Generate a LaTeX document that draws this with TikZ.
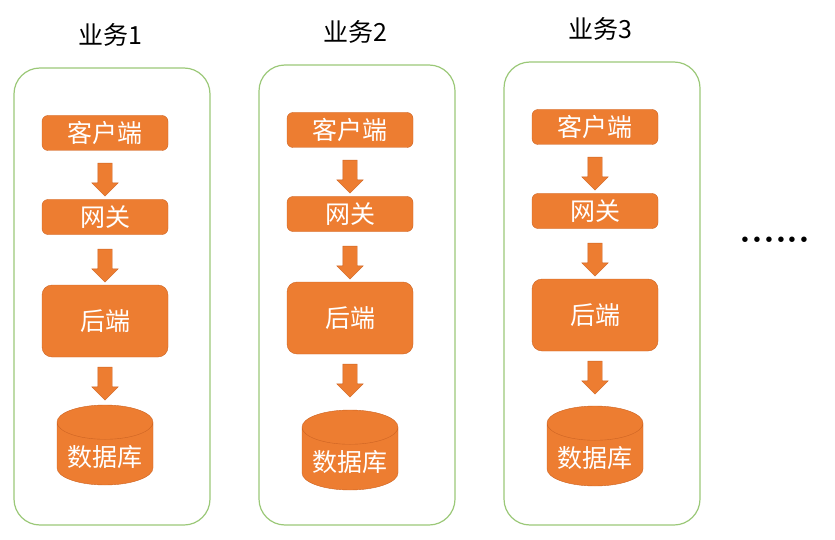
\documentclass[tikz,border=0pt]{standalone}
\usepackage{fontspec}
\newfontfamily\cjk{Noto Sans CJK SC}
\usetikzlibrary{shapes.geometric,shapes.arrows,positioning}
\definecolor{bizo}{RGB}{237,125,49}
\definecolor{bizd}{RGB}{205,100,35}
\definecolor{bizg}{RGB}{155,200,120}
\tikzset{
	every node/.style = { align = center, font=\cjk },
	box/.style = { rectangle, rounded corners=6pt, draw=bizd, fill=bizo, text=white, minimum width=126pt, minimum height=35pt, font=\cjk\fontsize{25}{25}\selectfont },
	big/.style = { box, minimum height=72pt, rounded corners=10pt },
	db/.style = { cylinder, shape border rotate=90, shape aspect=.42, draw=bizd, fill=bizo, text=white, minimum width=96pt, minimum height=80pt, anchor=shape center, font=\cjk\fontsize{25}{25}\selectfont },
	dn/.style = { single arrow, shape border rotate=270, draw=bizd, fill=bizo, inner sep=7pt, single arrow head extend=6pt, minimum height=33pt },
	lane/.style = { draw=bizg, line width=1.2pt, rounded corners=26pt },
	head/.style = { font=\cjk\fontsize{25}{25}\selectfont },
}

\begin{document}
\begin{tikzpicture}[x=1pt,y=-1pt]
\useasboundingbox (0,0) rectangle (835,540);

\foreach \i/\dx/\dy/\dd in {1/0/0/0, 2/245/-3/5, 3/490/-6/1} {
	\draw[lane] (14+\dx,68+\dy) rectangle (210+\dx,525);
	\node (biz\i) [head] at (110+\dx,35+\dy) {业务\i};

	\node (cli\i) [box] at (105+\dx,133+\dy) {客户端};
	\node (gw\i)  [box] at (105+\dx,217+\dy) {网关};
	\node (be\i)  [big] at (105+\dx,321+\dy) {后端};
	\node (db\i)  [db]  at (105+\dx,445+\dd) {数据库};

	\node (a\i)  [dn] at (105+\dx,176+\dy) {};
	\node (b\i)  [dn] at (105+\dx,262+\dy) {};
	\node (c\i)  [dn] at (105+\dx,380+\dy) {};
}

\node (more) [font=\rmfamily\bfseries\fontsize{38}{38}\selectfont, anchor=base] at (775,242) {......};

\end{tikzpicture}
\end{document}
